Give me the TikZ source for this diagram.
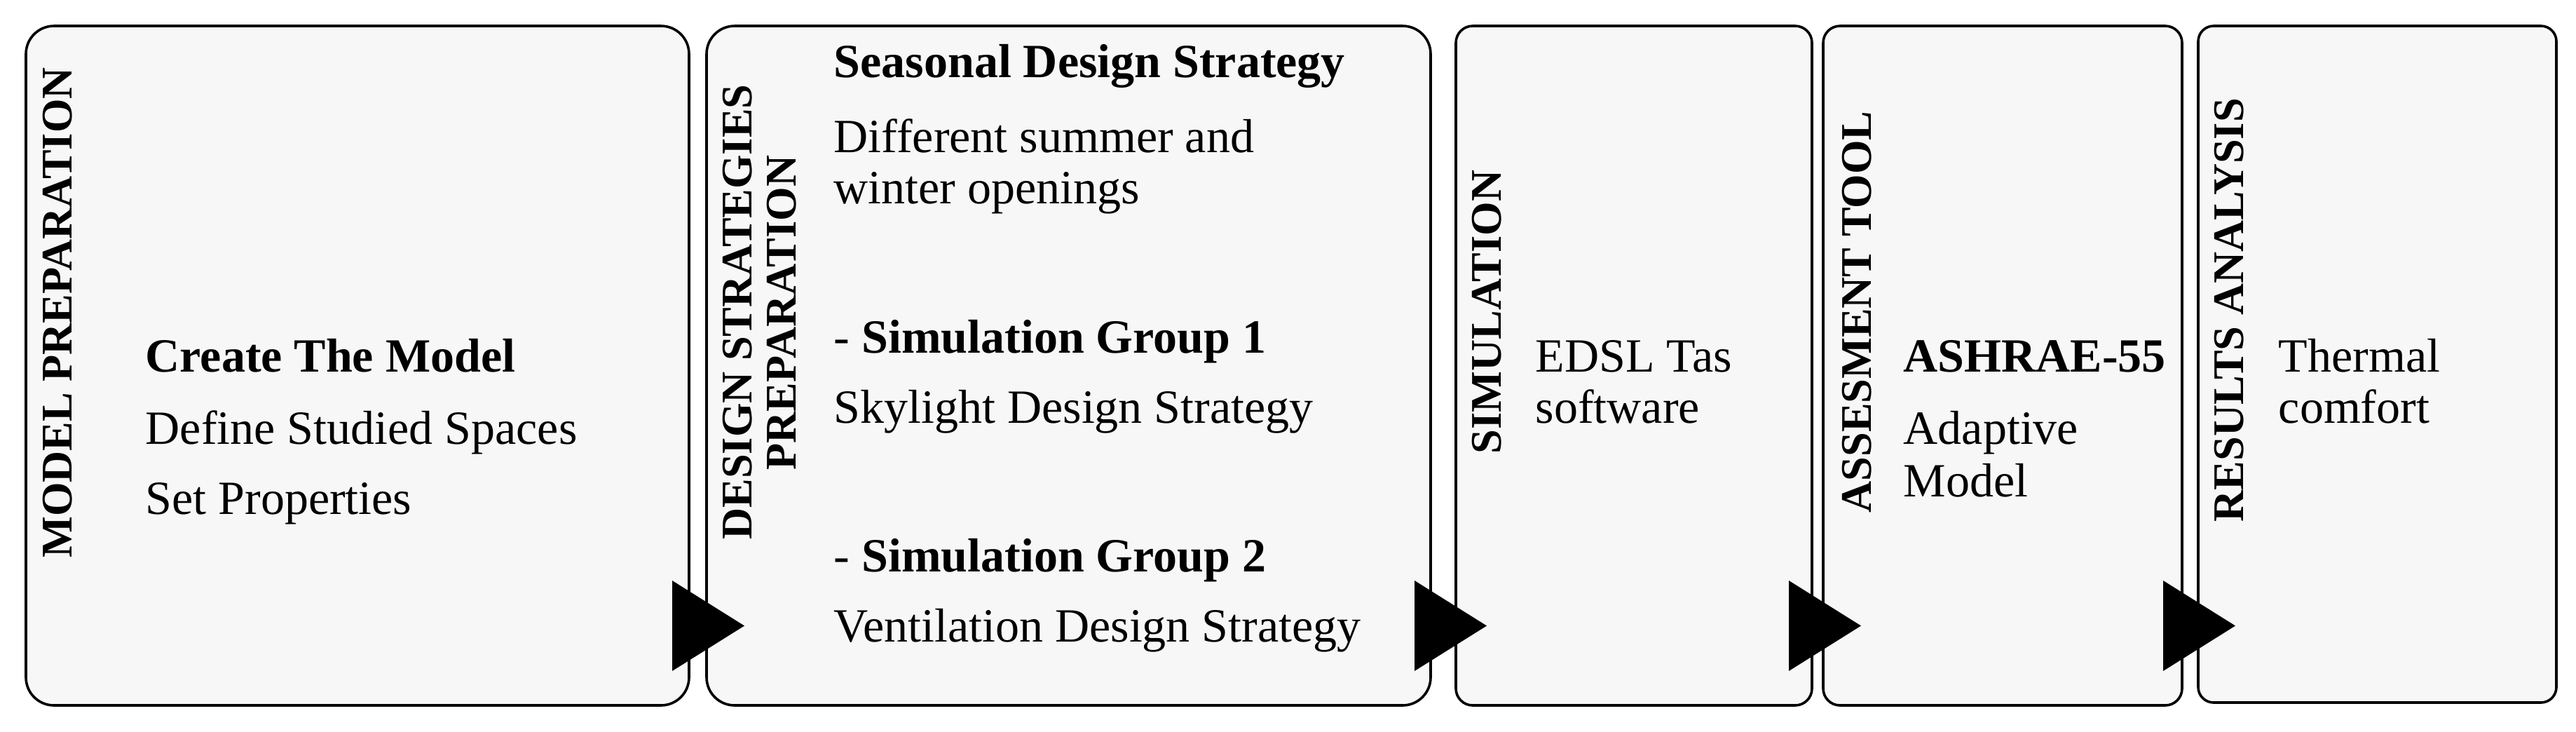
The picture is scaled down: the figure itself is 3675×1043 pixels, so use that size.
\documentclass[tikz,border=0pt]{standalone}
\usepackage{fontspec}
\setmainfont{Liberation Serif}
\definecolor{boxfill}{HTML}{F7F7F7}
\tikzset{
  stagebox/.style={draw=black, fill=boxfill, line width=0.9pt, inner sep=0pt, minimum width=#1},
  bodytxt/.style={inner sep=0pt, anchor=base west, font=\fontsize{17}{18.25}\selectfont},
  headtxt/.style={bodytxt, font=\fontsize{17}{18.25}\selectfont\bfseries},
  sidelabel/.style={inner sep=0pt, anchor=base, rotate=90, font=\fontsize{15.6}{15.75}\selectfont\bfseries},
  flowtip/.style={fill=black},
}
\begin{document}
\begin{tikzpicture}[x=0.25pt,y=-0.25pt]
\useasboundingbox (0,0) rectangle (3675,1043);
% stage boxes
\node[stagebox=236.5pt, minimum height=242.25pt, rounded corners=10pt] (b1) at (510,521.5) {};
\node[stagebox=258.25pt, minimum height=242.25pt, rounded corners=10pt] (b2) at (1524.5,521.5) {};
\node[stagebox=127pt, minimum height=242.25pt, rounded corners=6pt] (b3) at (2331,521.5) {};
\node[stagebox=128pt, minimum height=242.25pt, rounded corners=6pt] (b4) at (2857,521.5) {};
\node[stagebox=127.75pt, minimum height=241.25pt, rounded corners=5.5pt] (b5) at (3391.5,519.5) {};
% side labels
\node[sidelabel] (l1) at (102,446) {MODEL PREPARATION};
\node[sidelabel] (l2a) at (1072,445) {DESIGN STRATEGIES};
\node[sidelabel] (l2b) at (1135,446) {PREPARATION};
\node[sidelabel] (l3) at (2141,445) {SIMULATION};
\node[sidelabel] (l4) at (2669,445) {ASSESMENT TOOL};
\node[sidelabel] (l5) at (3200,442) {RESULTS ANALYSIS};
% box 1 text
\node[headtxt] (t11) at (207,530) {Create The Model};
\node[bodytxt] (t12) at (207,633) {Define Studied Spaces};
\node[bodytxt] (t13) at (207,733) {Set Properties};
% box 2 text
\node[headtxt] (t21) at (1189,110) {Seasonal Design Strategy};
\node[bodytxt] (t22) at (1189,217) {Different summer and};
\node[bodytxt] (t23) at (1189,290) {winter openings};
\node[bodytxt] (t24) at (1189,503) {- \textbf{Simulation Group 1}};
\node[bodytxt] (t25) at (1189,603) {Skylight Design Strategy};
\node[bodytxt] (t26) at (1189,815) {- \textbf{Simulation Group 2}};
\node[bodytxt] (t27) at (1189,915) {Ventilation Design Strategy};
% box 3 text
\node[bodytxt] (t31) at (2190,530) {EDSL Tas};
\node[bodytxt] (t32) at (2190,603) {software};
% box 4 text
\node[headtxt] (t41) at (2715,530) {ASHRAE-55};
\node[bodytxt] (t42) at (2715,633) {Adaptive};
\node[bodytxt] (t43) at (2715,708) {Model};
% box 5 text
\node[bodytxt] (t51) at (3250,530) {Thermal};
\node[bodytxt] (t52) at (3250,603) {comfort};
% flow arrowheads between stages
\coordinate (a1) at (959,892.5);
\coordinate (a2) at (2018,892.5);
\coordinate (a3) at (2552,892.5);
\coordinate (a4) at (3086,892.5);
\foreach \a in {a1,a2,a3,a4}{
  \fill[flowtip] (\a) ++(0,-64.5) -- ++(103,64.5) -- ++(-103,64.5) -- cycle;
}
\end{tikzpicture}
\end{document}
